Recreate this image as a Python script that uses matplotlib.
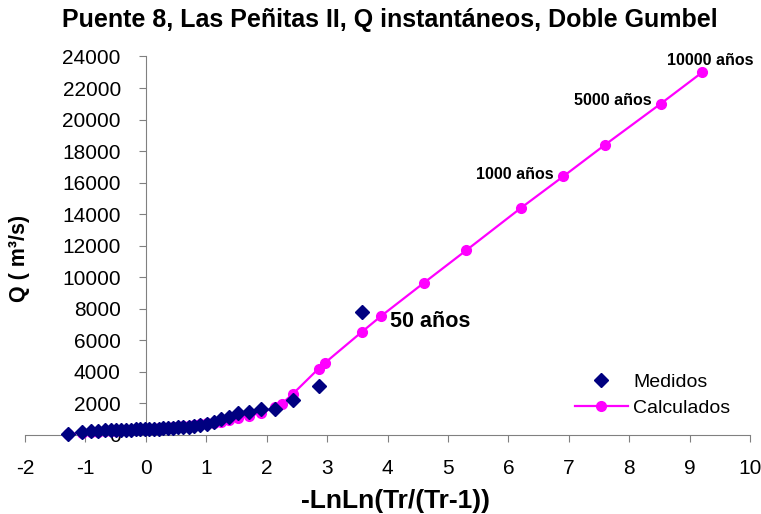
import matplotlib.pyplot as plt

plt.rcParams['font.family'] = ['Liberation Sans', 'DejaVu Sans']
plt.rcParams['axes.unicode_minus'] = False

# measured floods (plotting positions) and fitted double Gumbel
medidos_x = [3.57, 2.86, 2.44, 2.14, 1.90, 1.70, 1.53, 1.38, 1.25, 1.12, 1.01, 0.90,
             0.80, 0.71, 0.62, 0.53, 0.45, 0.37, 0.29, 0.21, 0.13, 0.06, -0.02, -0.09,
             -0.17, -0.25, -0.33, -0.41, -0.49, -0.58, -0.68, -0.79, -0.91, -1.06, -1.28]
medidos_q = [7800, 3120, 2200, 1680, 1640, 1460, 1400, 1150, 1000, 850, 700, 620,
             560, 530, 500, 480, 460, 440, 420, 400, 390, 380, 370, 360,
             350, 340, 330, 320, 310, 300, 290, 270, 250, 200, 80]

calc_x = [-1.28, -1.06, -0.91, -0.79, -0.68, -0.58, -0.49, -0.41, -0.33, -0.25, -0.17,
          -0.09, -0.02, 0.06, 0.13, 0.21, 0.29, 0.37, 0.45, 0.53, 0.62, 0.71, 0.80,
          0.90, 1.01, 1.12, 1.25, 1.38, 1.53, 1.70, 1.90, 2.14, 2.25, 2.44, 2.86,
          2.97, 3.57, 3.90, 4.60, 5.30, 6.21, 6.91, 7.60, 8.52, 9.21]
calc_q = [60, 130, 170, 200, 230, 250, 270, 290, 310, 330, 340,
          360, 370, 390, 400, 420, 440, 460, 490, 520, 560, 600, 640,
          680, 730, 780, 850, 940, 1070, 1200, 1400, 1750, 1980, 2630, 4210,
          4590, 6520, 7560, 9640, 11700, 14400, 16400, 18400, 21000, 23000]

etiquetas = ['50 años', '1000 años', '5000 años', '10000 años']
etiquetas_x = [3.90, 6.91, 8.52, 9.21]

fig = plt.figure(figsize=(7.61, 5.14), dpi=100)
ax = fig.add_axes([25 / 761, 1 - 435 / 514, 725 / 761, 378.5 / 514])

ax.plot(calc_x, calc_q, color='#ff00ff', lw=1.6, marker='o', markersize=7,
        label='Calculados', clip_on=False, zorder=2)
ax.plot(medidos_x, medidos_q, color='#000080', lw=0, marker='D', markersize=7.5,
        label='Medidos', clip_on=False, zorder=3)

ax.set_xlim(-2, 10)
ax.set_ylim(0, 24000)
ax.set_xticks(range(-2, 11))
ax.set_yticks(range(0, 24001, 2000))

ax.spines['top'].set_visible(False)
ax.spines['right'].set_visible(False)
ax.spines['left'].set_position(('data', 0))
ax.spines['bottom'].set_position(('data', 0))
for s in ['left', 'bottom']:
    ax.spines[s].set_color('#808080')
ax.tick_params(axis='both', direction='out', length=5, color='#808080', labelsize=15)
ax.tick_params(axis='y', pad=13)
ax.tick_params(axis='x', pad=12)

# return period labels
offsets = [(6.5, -8.2), (-6.9, -1.9), (-6.5, -1.2), (5.4, 5)]
aligns = ['left', 'right', 'right', 'center']
for i, txt in enumerate(etiquetas):
    xv = etiquetas_x[i]
    yv = calc_q[calc_x.index(xv)]
    size = 15.5 if txt == '50 años' else 11.5
    ax.annotate(txt, (xv, yv), xytext=offsets[i], textcoords='offset points',
                ha=aligns[i], va='baseline', fontsize=size, fontweight='bold')

handles, labels = ax.get_legend_handles_labels()
ax.legend(handles[::-1], labels[::-1], loc='center left', frameon=False, fontsize=14,
          bbox_to_anchor=(575 / 761, 1 - 395 / 514), bbox_transform=fig.transFigure,
          borderpad=0, borderaxespad=0, handlelength=2.7, handletextpad=0.3,
          labelspacing=0.45)

fig.text(389.5 / 761, 1 - 27 / 514, 'Puente 8, Las Peñitas II, Q instantáneos, Doble Gumbel',
         ha='center', va='baseline', fontsize=18, fontweight='bold')
fig.text(395 / 761, 6 / 514, '-LnLn(Tr/(Tr-1))', ha='center', va='baseline',
         fontsize=19, fontweight='bold')
fig.text(20 / 761, 1 - 258 / 514, 'Q ( m³/s)', rotation=90, ha='center', va='center',
         fontsize=15.5, fontweight='bold')

fig.savefig('out.png', dpi=100)
